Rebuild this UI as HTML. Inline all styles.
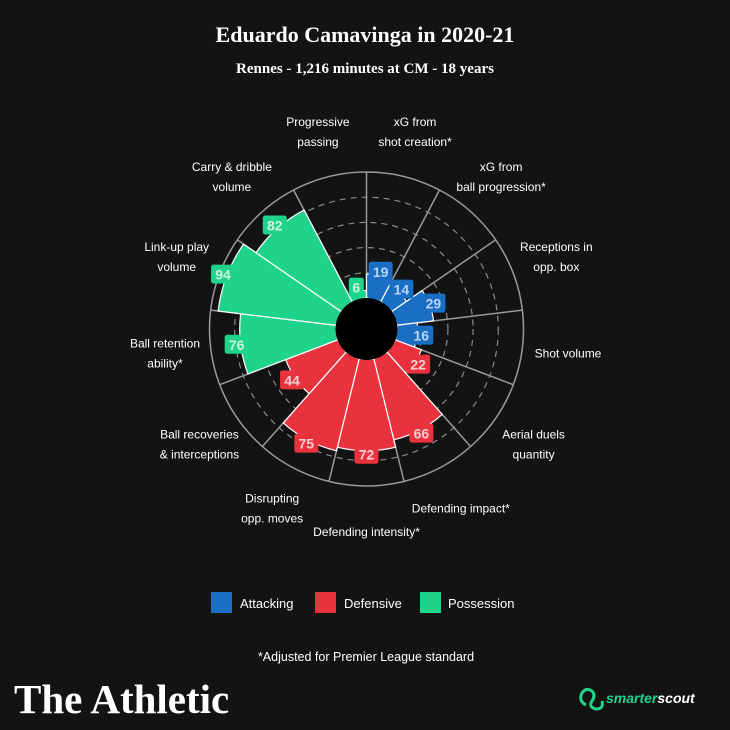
<!DOCTYPE html>
<html><head><meta charset="utf-8">
<style>
html,body{margin:0;padding:0;background:#131313;}
svg{display:block;}
</style></head>
<body>
<svg id="chart" width="730" height="730" viewBox="0 0 730 730" style="font-family:'Liberation Sans',sans-serif">
<rect width="730" height="730" fill="#131313"/>
<text x="365" y="42" text-anchor="middle" fill="#fff" style="font-family:'Liberation Serif',serif;font-weight:bold;font-size:22px">Eduardo Camavinga in 2020-21</text>
<text x="365" y="73" text-anchor="middle" fill="#fff" style="font-family:'Liberation Serif',serif;font-weight:bold;font-size:15px">Rennes - 1,216 minutes at CM - 18 years</text>
<g id="plot"></g>
<g>
<rect x="211" y="592" width="21" height="21" fill="#1a6ec4"/>
<text x="240" y="608" fill="#fff" font-size="13">Attacking</text>
<rect x="315" y="592" width="21" height="21" fill="#e8323e"/>
<text x="344" y="608" fill="#fff" font-size="13">Defensive</text>
<rect x="420" y="592" width="21" height="21" fill="#1fd38a"/>
<text x="448" y="608" fill="#fff" font-size="13">Possession</text>
</g>
<text x="366" y="661" text-anchor="middle" fill="#fff" font-size="12.5">*Adjusted for Premier League standard</text>
<text x="14" y="713" fill="#fff" style="font-family:'Liberation Serif',serif;font-weight:bold;font-size:41px">The Athletic</text>
<g>
<path d="M586 705 q-8 -4 -4 -12 q4 -6 10 -2 q4 4 0 10 q-4 6 4 8 q8 0 6 -8" fill="none" stroke="#1fd38a" stroke-width="3"/>
<text x="606" y="703" fill="#1fd38a" font-weight="bold" font-style="italic" font-size="14">smarter<tspan fill="#fff">scout</tspan></text>
</g>
</svg>
<script>
const categories = ["xG from|shot creation*","xG from|ball progression*","Receptions in|opp. box","Shot volume","Aerial duels|quantity","Defending impact*","Defending intensity*","Disrupting|opp. moves","Ball recoveries|& interceptions","Ball retention|ability*","Link-up play|volume","Carry & dribble|volume","Progressive|passing"];
const values = [19,14,29,16,22,66,72,75,44,76,94,82,6];
const groups = ["att","att","att","att","def","def","def","def","def","pos","pos","pos","pos"];
const gridTicks = [20,40,60,80];

const colors = {att:"#1a6ec4",def:"#e8323e",pos:"#1fd38a"};
const textColors = {att:"#b9d4f2",def:"#fbd0d3",pos:"#c9f5e1"};
const cx = 366.5, cy = 329, r0 = 31, rMax = 157;
const ns = "http://www.w3.org/2000/svg";
const plot = document.getElementById("plot");
const n = categories.length, step = 2*Math.PI/n;
function rScale(v){ return r0 + (rMax - r0) * v / 100; }
function pt(r,a){ return [cx + r*Math.sin(a), cy - r*Math.cos(a)]; }
function mk(tag, attrs){ const e = document.createElementNS(ns, tag); for (const k in attrs) e.setAttribute(k, attrs[k]); plot.appendChild(e); return e; }

gridTicks.forEach(t => {
  const c = mk("circle", {cx:cx, cy:cy, r:rScale(t), fill:"none", stroke:"#8a8a8a", "stroke-width":1.2, "stroke-dasharray":"6 5"});
  
  
});
const outer = mk("circle", {cx:cx, cy:cy, r:rMax, fill:"none", stroke:"#9a9a9a", "stroke-width":1.5});


for (let i = 0; i < n; i++) {
  const [x1,y1] = pt(r0, i*step), [x2,y2] = pt(rMax, i*step);
  const s = mk("line", {x1:x1, y1:y1, x2:x2, y2:y2, stroke:"#9a9a9a", "stroke-width":1.5});
  
  
}
values.forEach((v, i) => {
  const a1 = i*step, a2 = (i+1)*step, r = rScale(v);
  const [ax,ay] = pt(r0,a1), [bx,by] = pt(r,a1), [ex,ey] = pt(r,a2), [fx,fy] = pt(r0,a2);
  const d = `M${ax},${ay} L${bx},${by} A${r},${r} 0 0 1 ${ex},${ey} L${fx},${fy} Z`;
  const p = mk("path", {d:d, fill:colors[groups[i]], stroke:"#ffffff", "stroke-width":1.2});
  
  
});
const disk = mk("circle", {cx:cx, cy:cy, r:r0, fill:"#000"});


values.forEach((v, i) => {
  const a = (i+0.5)*step;
  const [x,y] = pt(rScale(v)+4, a);
  const w = String(v).length > 1 ? 24 : 15;
  const b = mk("rect", {x:x-w/2, y:y-10, width:w, height:19, rx:2.5, fill:colors[groups[i]]});
  
  
  const t = mk("text", {x:x, y:y+5, "text-anchor":"middle", fill:textColors[groups[i]], "font-weight":"bold", "font-size":14});
  t.textContent = v;
  
  
});
categories.forEach((c, i) => {
  const a = (i+0.5)*step;
  const [x,y] = pt(203, a);
  const lines = c.split("|");
  const t = mk("text", {x:x, y:y, "text-anchor":"middle", fill:"#fff", "font-size":12});
  
  
  lines.forEach((ln, j) => {
    const ts = document.createElementNS(ns, "tspan");
    ts.setAttribute("x", x);
    ts.setAttribute("y", y + 4 + (j - (lines.length-1)/2) * 20);
    ts.textContent = ln;
    t.appendChild(ts);
  });
});
</script>
</body></html>
